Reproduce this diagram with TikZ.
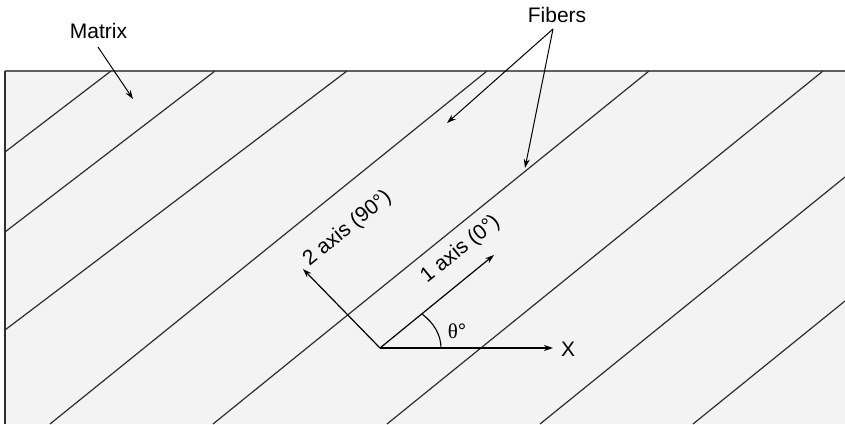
\documentclass[tikz,border=0pt]{standalone}
\usepackage{fontspec}
\setmainfont{Liberation Sans}
\newfontfamily\greekfont{Liberation Serif}
\usetikzlibrary{arrows.meta}
\definecolor{fillgray}{HTML}{F3F3F3}
\definecolor{linegray}{HTML}{2E2E2E}
\tikzset{
  fiber/.style={draw=linegray, line width=1.2pt},
  leader/.style={draw=black, line width=1pt, -{Stealth[length=9pt,width=6pt]}},
  axisarrow/.style={draw=black, line width=1.2pt, -{Stealth[length=9pt,width=6pt]}},
  lbl/.style={inner sep=0pt, font=\fontsize{21}{25}\selectfont},
}
\begin{document}
\begin{tikzpicture}[x=1pt,y=-1pt]
\useasboundingbox (0,0) rectangle (845,424);
% matrix block
\fill[fillgray] (5,71) rectangle (845,424);
\draw[gray!75!black, line width=2pt] (5,71) -- (845,71);
\draw[linegray, line width=1.2pt] (5,71) -- (5,424);
% fibers
\draw[fiber] (5,152) -- (111,71);
\draw[fiber] (5,232) -- (215,71);
\draw[fiber] (5,330) -- (347,71);
\draw[fiber] (50,424) -- (487,71);
\draw[fiber] (213,424) -- (649,71);
\draw[fiber] (387,424) -- (823,71);
\draw[fiber] (540,424) -- (845,177);
\draw[fiber] (693,424) -- (845,301);
% labels
\node[lbl, anchor=base] (matrix) at (98.5,38) {Matrix};
\node[lbl, anchor=base] (fibers) at (557,22) {Fibers};
\coordinate (mtip) at (133,99);
\coordinate (mstart) at (98,47);
\coordinate (fstart) at (553,29);
\coordinate (ftipa) at (447,123);
\coordinate (ftipb) at (525,168);
\draw[leader] (mstart) -- (mtip);
\draw[leader] (fstart) -- (ftipa);
\draw[leader] (fstart) -- (ftipb);
% axes
\coordinate (O) at (380,348);
\coordinate (one) at (494,255);
\coordinate (two) at (303,269);
\coordinate (xend) at (553,348);
\draw[axisarrow] (O) -- (one);
\draw[axisarrow] (O) -- (two);
\draw[axisarrow] (O) -- (xend);
\draw[black, line width=1.1pt] (441,348) .. controls (441,335) and (434,323) .. (422,314);
\node[lbl, anchor=base] (xlbl) at (568,356) {X};
\node[lbl, anchor=base] (theta) at (457,338) {{\greekfont θ}°};
\node[lbl, anchor=base, rotate=39] (axis2) at (351,233) {2 axis (90°)};
\node[lbl, anchor=base, rotate=39] (axis1) at (464,254) {1 axis (0°)};
\end{tikzpicture}
\end{document}
